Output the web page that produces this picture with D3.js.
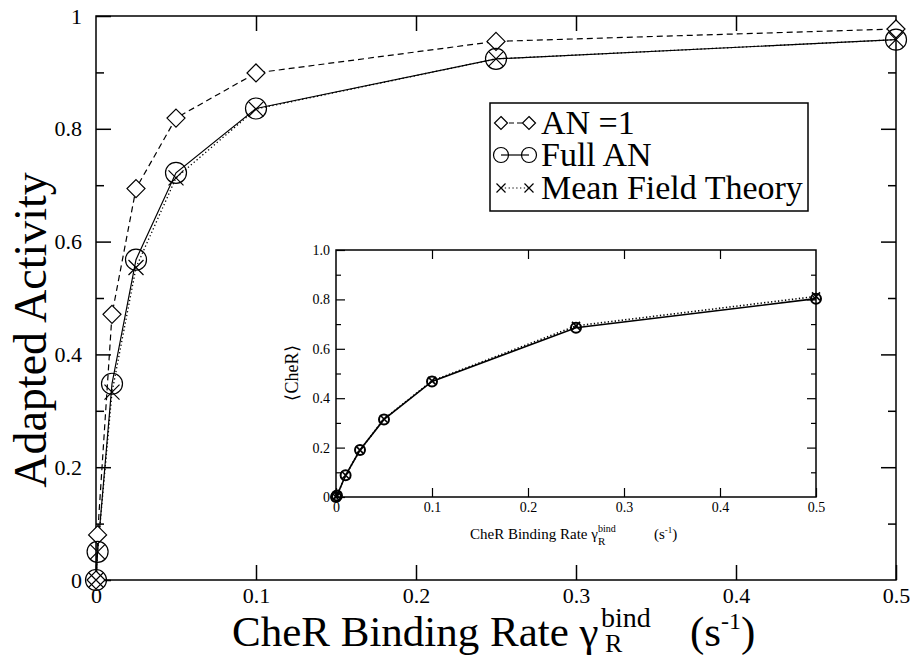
<!DOCTYPE html>
<html><head><meta charset="utf-8">
<script src="https://cdn.jsdelivr.net/npm/d3@7"></script>
<style>
html,body{margin:0;padding:0;background:#fff;}
svg{display:block;font-family:"Liberation Serif","Times New Roman",serif;}
</style></head>
<body><svg id="c" width="911" height="662"></svg>
<script>
// ---- data ----
const rates = [0, 0.001, 0.01, 0.025, 0.05, 0.1, 0.25, 0.5];
const activityAN1  = [0, 0.08, 0.471, 0.694, 0.819, 0.899, 0.955, 0.977];
const activityFull = [0, 0.05, 0.348, 0.568, 0.722, 0.836, 0.924, 0.958];
const activityMFT  = [0, 0.05, 0.333, 0.554, 0.713, 0.835, 0.924, 0.958];
const insetRates = [0, 0.001, 0.01, 0.025, 0.05, 0.1, 0.25, 0.5];
const cherFull = [0, 0.006, 0.088, 0.19, 0.314, 0.468, 0.685, 0.803];
const cherMFT  = [0, 0.006, 0.088, 0.19, 0.316, 0.47, 0.693, 0.812];
const mainXTicks = [0, 0.1, 0.2, 0.3, 0.4, 0.5];
const mainYTicks = [0, 0.2, 0.4, 0.6, 0.8, 1];
const mainYMinor = [0.1, 0.3, 0.5, 0.7, 0.9];
const insetXTicks = [0, 0.1, 0.2, 0.3, 0.4, 0.5];
const insetYTicks = [0, 0.2, 0.4, 0.6, 0.8, 1.0];
const insetYMinor = [0.1, 0.3, 0.5, 0.7, 0.9];
const legendLabels = ["AN =1", "Full AN", "Mean Field Theory"];

const svg = d3.select("#c");
const x = d3.scaleLinear().domain([0, 0.5]).range([96, 896]);
const y = d3.scaleLinear().domain([0, 1]).range([580, 16]);
const xi = d3.scaleLinear().domain([0, 0.5]).range([336, 816]);
const yi = d3.scaleLinear().domain([0, 1]).range([497, 250]);

function frameAxes(g, xs, ys, xt, yt, ym, major, minor, fs, padX, padY, fmtX, fmtY) {
  const [x0, x1] = xs.range(), [y0, y1] = ys.range();
  const ax = (a) => a.tickSizeOuter(0);
  g.append("g").attr("transform", `translate(0,${y0})`)
    .call(ax(d3.axisBottom(xs).tickValues(xt).tickSizeInner(-major).tickPadding(padX).tickFormat(fmtX)));
  g.append("g").attr("transform", `translate(0,${y1})`)
    .call(ax(d3.axisTop(xs).tickValues(xt.filter((v,i)=>i>0 && i<xt.length-1)).tickSizeInner(-major).tickFormat("")));
  g.append("g").attr("transform", `translate(${x0},0)`)
    .call(ax(d3.axisLeft(ys).tickValues(yt).tickSizeInner(-major).tickPadding(padY).tickFormat(fmtY)));
  g.append("g").attr("transform", `translate(${x0},0)`)
    .call(ax(d3.axisLeft(ys).tickValues(ym).tickSizeInner(-minor).tickFormat("")));
  g.append("g").attr("transform", `translate(${x1},0)`)
    .call(ax(d3.axisRight(ys).tickValues(yt.filter((v,i)=>i>0 && i<yt.length-1)).tickSizeInner(-major).tickFormat("")));
  g.append("g").attr("transform", `translate(${x1},0)`)
    .call(ax(d3.axisRight(ys).tickValues(ym).tickSizeInner(-minor).tickFormat("")));
  g.selectAll(".domain").remove();
  g.selectAll("g").attr("font-family", null);
  g.selectAll(".tick line").attr("stroke", "#000").attr("stroke-width", 1.5);
  g.selectAll(".tick text").attr("font-family", "Liberation Serif").attr("font-size", fs).attr("fill", "#000");
  g.append("rect").attr("x", x0).attr("y", y1).attr("width", x1 - x0).attr("height", y0 - y1)
    .attr("fill", "none").attr("stroke", "#000").attr("stroke-width", 1.5);
}

// marker drawers
function diamond(g, cx, cy, r) {
  g.append("path").attr("d", `M${cx},${cy-r}L${cx+r},${cy}L${cx},${cy+r}L${cx-r},${cy}Z`)
    .attr("fill", "#fff").attr("stroke", "#000").attr("stroke-width", 1.2);
}
function circ(g, cx, cy, r, sw) {
  g.append("circle").attr("cx", cx).attr("cy", cy).attr("r", r)
    .attr("fill", "none").attr("stroke", "#000").attr("stroke-width", sw);
}
function cross(g, cx, cy, r, sw) {
  g.append("path").attr("d", `M${cx-r},${cy-r}L${cx+r},${cy+r}M${cx-r},${cy+r}L${cx+r},${cy-r}`)
    .attr("stroke", "#000").attr("stroke-width", sw);
}

// ---- main plot ----
const main = svg.append("g");
frameAxes(main, x, y, mainXTicks, mainYTicks, mainYMinor, 15, 8, 22, 7, 14,
  d => d === 0 ? "0" : d3.format(".1f")(d), d => d === 0 ? "0" : (d === 1 ? "1" : d3.format(".1f")(d)));

const line = (xs, ys, xv, yv) => d3.line().x((d, i) => xs(xv[i])).y(d => ys(d))(yv);
const gl = main.append("g");
gl.append("path").attr("d", line(x, y, rates, activityAN1)).attr("fill", "none").attr("stroke", "#000")
  .attr("stroke-width", 1.2).attr("stroke-dasharray", "6,4");
gl.append("path").attr("d", line(x, y, rates, activityFull)).attr("fill", "none").attr("stroke", "#000")
  .attr("stroke-width", 1.2);
gl.append("path").attr("d", line(x, y, rates, activityMFT)).attr("fill", "none").attr("stroke", "#000")
  .attr("stroke-width", 1.3).attr("stroke-dasharray", "1.3,2.5");
rates.forEach((r, i) => diamond(gl, x(r), y(activityAN1[i]), 9));
rates.forEach((r, i) => circ(gl, x(r), y(activityFull[i]), 10.5, 1.2));
rates.forEach((r, i) => cross(gl, x(r), y(activityMFT[i]), 7.5, 1.2));

// main axis titles
const xt = svg.append("text").attr("x", 232).attr("y", 646).attr("font-size", 43).attr("fill", "#000");
xt.append("tspan").text("CheR Binding Rate \u03B3");
xt.append("tspan").attr("font-size", 28).attr("x", 601).attr("dy", -19).text("bind");
svg.append("text").attr("x", 605).attr("y", 652).attr("font-size", 26).attr("fill", "#000").text("R");
const xu = svg.append("text").attr("x", 690).attr("y", 646).attr("font-size", 43).attr("fill", "#000");
xu.append("tspan").text("(s");
xu.append("tspan").attr("font-size", 24).attr("dy", -17).text("-1");
xu.append("tspan").attr("dy", 17).text(")");

svg.append("text").attr("transform", "translate(46,330) rotate(-90)").attr("text-anchor", "middle")
  .attr("font-size", 46).attr("fill", "#000").text("Adapted Activity");

// legend
const lg = svg.append("g");
lg.append("rect").attr("x", 490).attr("y", 103).attr("width", 318).attr("height", 108)
  .attr("fill", "#fff").attr("stroke", "#000").attr("stroke-width", 1.5);
const rowsY = [123, 155, 188];
const dashes = ["5,3", null, "1.3,2.5"];
legendLabels.forEach((t, i) => {
  const ly = rowsY[i];
  const p = lg.append("line").attr("x1", 501).attr("x2", 529).attr("y1", ly).attr("y2", ly)
    .attr("stroke", "#000").attr("stroke-width", 1.2);
  if (dashes[i]) p.attr("stroke-dasharray", dashes[i]);
  [501, 529].forEach(mx => {
    if (i === 0) diamond(lg, mx, ly, 6.5);
    if (i === 1) circ(lg, mx, ly, 7.5, 1.2);
    if (i === 2) cross(lg, mx, ly, 4.5, 1.2);
  });
  lg.append("text").attr("x", 541).attr("y", ly + 11).attr("font-size", 34).attr("fill", "#000").text(t);
});

// ---- inset ----
const ins = svg.append("g");
ins.append("rect").attr("x", 336).attr("y", 250).attr("width", 480).attr("height", 247).attr("fill", "#fff");
frameAxes(ins, xi, yi, insetXTicks, insetYTicks, insetYMinor, 9, 5, 14, 5, 6,
  d => d === 0 ? "0" : d3.format(".1f")(d), d => d === 0 ? "0" : d3.format(".1f")(d));
ins.selectAll(".tick line").attr("stroke-width", 1.2);
const gi = ins.append("g");
gi.append("path").attr("d", line(xi, yi, insetRates, cherFull)).attr("fill", "none").attr("stroke", "#000")
  .attr("stroke-width", 1.6);
gi.append("path").attr("d", line(xi, yi, insetRates, cherMFT)).attr("fill", "none").attr("stroke", "#000")
  .attr("stroke-width", 1.6).attr("stroke-dasharray", "1.3,2.2");
insetRates.forEach((r, i) => circ(gi, xi(r), yi(cherFull[i]), 5, 2));
insetRates.forEach((r, i) => cross(gi, xi(r), yi(cherMFT[i]), 4, 1.6));

const it = svg.append("text").attr("x", 470).attr("y", 539).attr("font-size", 15).attr("fill", "#000");
it.append("tspan").text("CheR Binding Rate \u03B3");
it.append("tspan").attr("font-size", 10).attr("x", 598).attr("dy", -7).text("bind");
svg.append("text").attr("x", 598).attr("y", 545).attr("font-size", 11).attr("fill", "#000").text("R");
const iu = svg.append("text").attr("x", 654).attr("y", 539).attr("font-size", 15).attr("fill", "#000");
iu.append("tspan").text("(s");
iu.append("tspan").attr("font-size", 9).attr("dy", -6).text("-1");
iu.append("tspan").attr("dy", 6).text(")");

svg.append("text").attr("transform", "translate(298,373) rotate(-90)").attr("text-anchor", "middle")
  .attr("font-size", 18).attr("fill", "#000").text("\u27E8CheR\u27E9");
</script></body></html>
